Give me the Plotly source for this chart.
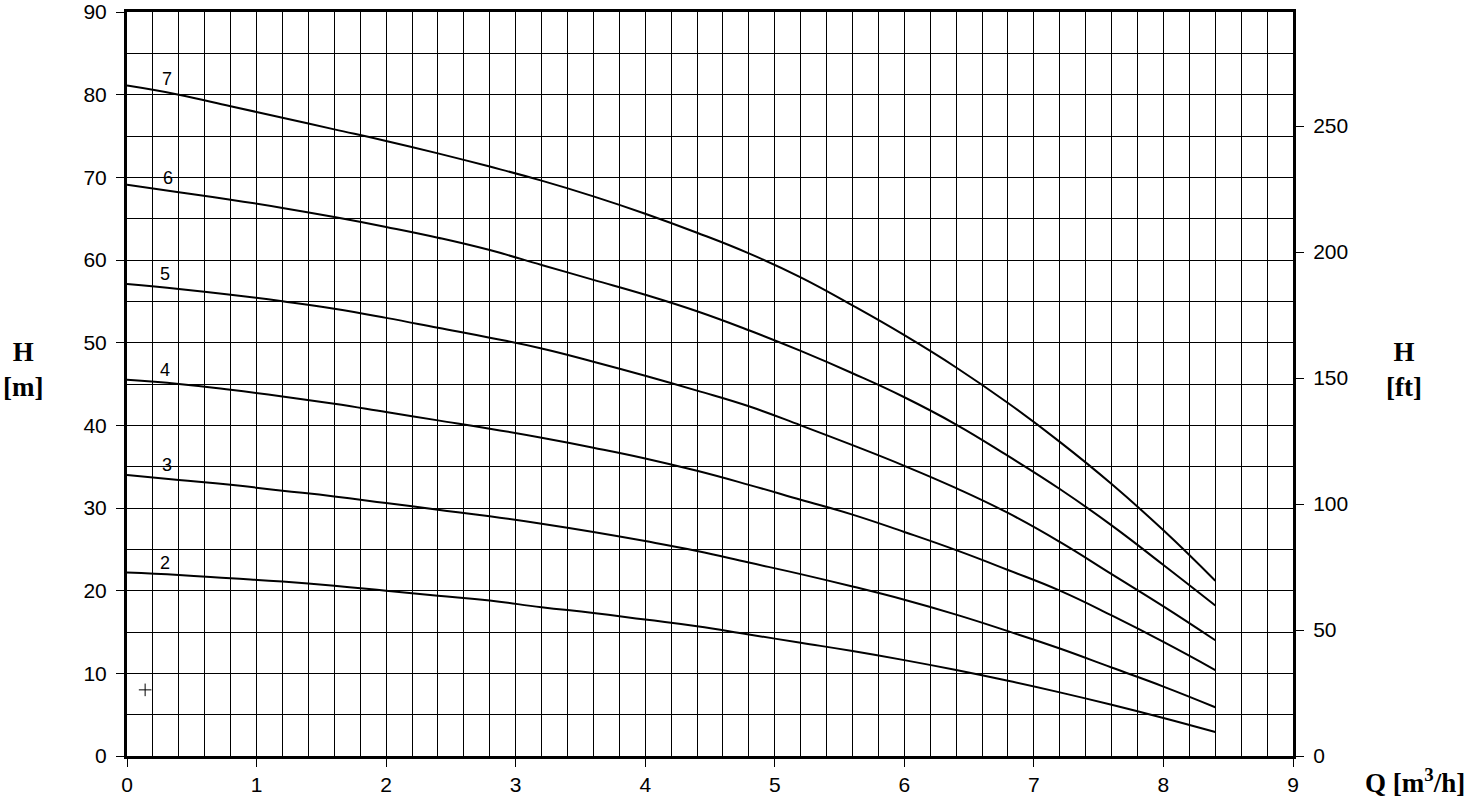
import plotly.graph_objects as go

# Flow rate Q [m3/h]
Q = [0, 0.4, 0.8, 1.2, 1.6, 2.0, 2.4, 2.8, 3.2, 3.6, 4.0, 4.4, 4.8, 5.2, 5.6, 6.0, 6.4, 6.8, 7.2, 7.6, 8.0, 8.4]

# Head H [m] per curve (stage count)
H7 = [81.1, 80.0, 78.6, 77.2, 75.8, 74.4, 72.9, 71.3, 69.6, 67.7, 65.6, 63.3, 60.8, 57.9, 54.5, 50.9, 47.0, 42.7, 38.0, 32.9, 27.3, 21.2]
H6 = [69.1, 68.2, 67.3, 66.3, 65.2, 64.0, 62.7, 61.2, 59.4, 57.6, 55.8, 53.8, 51.5, 49.0, 46.3, 43.4, 40.1, 36.3, 32.3, 27.9, 23.1, 18.2]
H5 = [57.1, 56.5, 55.8, 55.0, 54.1, 53.0, 51.8, 50.6, 49.3, 47.7, 46.0, 44.2, 42.3, 40.0, 37.6, 35.1, 32.4, 29.4, 25.9, 22.0, 18.1, 14.0]
H4 = [45.5, 45.0, 44.3, 43.5, 42.6, 41.6, 40.6, 39.6, 38.5, 37.3, 36.0, 34.5, 32.8, 31.0, 29.2, 27.1, 24.9, 22.5, 20.0, 17.0, 13.8, 10.4]
H3 = [34.0, 33.4, 32.8, 32.1, 31.4, 30.6, 29.8, 29.0, 28.1, 27.1, 26.0, 24.8, 23.4, 22.0, 20.5, 18.9, 17.1, 15.1, 13.0, 10.7, 8.4, 5.9]
H2 = [22.2, 21.9, 21.5, 21.1, 20.6, 20.0, 19.4, 18.8, 18.0, 17.3, 16.5, 15.7, 14.7, 13.7, 12.7, 11.6, 10.4, 9.1, 7.7, 6.2, 4.6, 2.9]

curve_names = ["7", "6", "5", "4", "3", "2"]
curves = [H7, H6, H5, H4, H3, H2]
label_q = [0.31, 0.32, 0.29, 0.29, 0.31, 0.29]
label_h = [81.9, 69.9, 58.3, 46.7, 35.2, 23.3]

marker_q = [0.14]
marker_h = [8.0]

x_ticks = list(range(0, 10))
y_ticks = list(range(0, 100, 10))
ft_ticks = [0, 50, 100, 150, 200, 250]
M_TO_FT = 3.28084

fig = go.Figure()
for name, H in zip(curve_names, curves):
    fig.add_trace(go.Scatter(x=Q, y=H, mode="lines", name=name,
                             line=dict(color="black", width=2, shape="spline", smoothing=1.3),
                             showlegend=False, hoverinfo="skip"))

fig.add_trace(go.Scatter(x=marker_q, y=marker_h, mode="markers", showlegend=False,
                         hoverinfo="skip",
                         marker=dict(symbol="cross-thin", size=9, color="black",
                                     line=dict(width=1, color="black"))))

# invisible trace for right axis
fig.add_trace(go.Scatter(x=[0], y=[0], yaxis="y2", mode="markers",
                         marker=dict(opacity=0), showlegend=False, hoverinfo="skip"))

for name, q, h in zip(curve_names, label_q, label_h):
    fig.add_annotation(x=q, y=h, xref="x", yref="y", text=name, showarrow=False,
                       xanchor="center", yanchor="middle",
                       font=dict(family="Liberation Sans, Arial", size=18, color="black"))

tick_font = dict(family="Liberation Sans, Arial", size=21, color="black")
title_font = dict(family="Liberation Serif, Times New Roman, serif", size=27, color="black")

fig.update_layout(
    width=1482, height=799,
    margin=dict(l=127, r=189, t=12, b=43),
    paper_bgcolor="white", plot_bgcolor="white",
    xaxis=dict(range=[0, 9], tickvals=x_ticks, ticks="outside", ticklen=8, tickwidth=1,
               tickcolor="black", tickfont=tick_font, showgrid=True, gridcolor="black",
               gridwidth=1, showline=True, linecolor="black", linewidth=3, mirror=True,
               zeroline=False, automargin=False,
               minor=dict(dtick=0.2, showgrid=True, gridcolor="black", gridwidth=1)),
    yaxis=dict(range=[0, 90], tickvals=y_ticks, ticks="outside", ticklen=8, tickwidth=1,
               tickcolor="black", tickfont=tick_font, showgrid=True, gridcolor="black",
               gridwidth=1, showline=True, linecolor="black", linewidth=3, mirror=True,
               zeroline=False, automargin=False, ticklabelstandoff=5,
               minor=dict(dtick=5, showgrid=True, gridcolor="black", gridwidth=1)),
    yaxis2=dict(range=[0, 90 * M_TO_FT], tickvals=ft_ticks, overlaying="y", side="right",
                ticks="outside", ticklen=8, tickwidth=1, tickcolor="black",
                tickfont=tick_font, showgrid=False, showline=True, linecolor="black",
                linewidth=3, zeroline=False, automargin=False, ticklabelstandoff=5),
)

fig.add_annotation(xref="paper", yref="paper", x=-0.089, y=0.519, text="<b>H</b><br><b>[m]</b>",
                   showarrow=False, font=title_font, align="center",
                   xanchor="center", yanchor="middle")
fig.add_annotation(xref="paper", yref="paper", x=1.095, y=0.519, text="<b>H</b><br><b>[ft]</b>",
                   showarrow=False, font=title_font, align="center",
                   xanchor="center", yanchor="middle")
fig.add_annotation(xref="paper", yref="paper", x=1.1046, y=-0.034,
                   text="<b>Q [m<sup>3</sup>/h]</b>", showarrow=False, font=title_font,
                   xanchor="center", yanchor="middle")

fig.write_html("out.html", config={"displayModeBar": False},
               post_script="document.body.style.margin='0px';")
